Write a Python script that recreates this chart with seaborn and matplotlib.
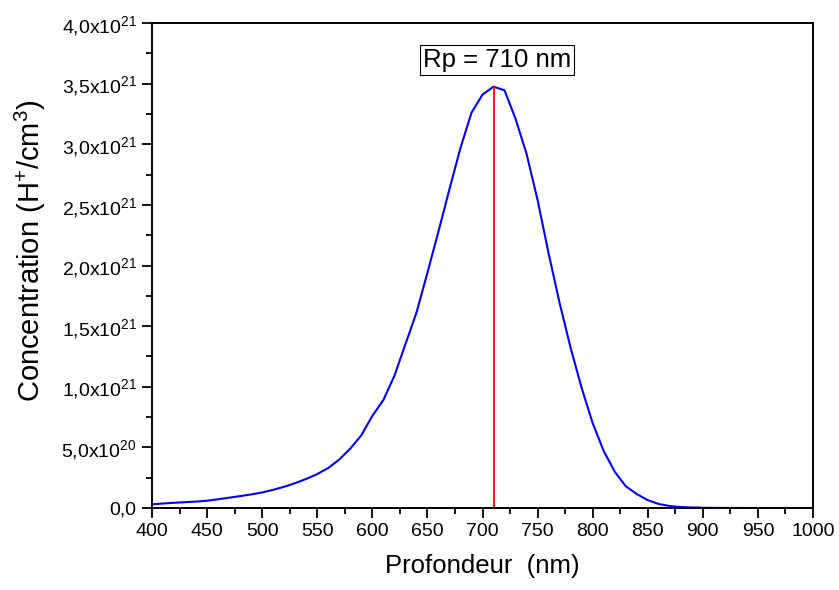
import numpy as np
import pandas as pd
import matplotlib
matplotlib.use("Agg")
import matplotlib.pyplot as plt
from matplotlib.ticker import FixedLocator, MultipleLocator
import seaborn as sns

# --------------------------------------------------
# Data (read from the reference profile, 10 nm steps)
# --------------------------------------------------
depth_nm = list(range(400, 1010, 10))
conc_e21 = [
    0.030, 0.037, 0.043, 0.048, 0.053, 0.060, 0.072, 0.085, 0.098, 0.112,
    0.128, 0.150, 0.175, 0.205, 0.240, 0.280, 0.330, 0.400, 0.490, 0.600,
    0.760, 0.890, 1.090, 1.350, 1.610, 1.940, 2.280, 2.630, 2.970, 3.260,
    3.410, 3.475, 3.445, 3.210, 2.920, 2.540, 2.100, 1.690, 1.320, 0.990,
    0.700, 0.470, 0.300, 0.180, 0.115, 0.065, 0.033, 0.016, 0.008, 0.004,
    0.002, 0.001, 0.0005, 0.0003, 0.0002, 0.0001, 0.0, 0.0, 0.0, 0.0, 0.0,
]
rp_nm = 710
rp_label = "Rp = 710 nm"

y_ticks = [0.0, 0.5e21, 1.0e21, 1.5e21, 2.0e21, 2.5e21, 3.0e21, 3.5e21, 4.0e21]
y_ticklabels = [
    "0,0",
    r"5,0x10$^{20}$",
    r"1,0x10$^{21}$",
    r"1,5x10$^{21}$",
    r"2,0x10$^{21}$",
    r"2,5x10$^{21}$",
    r"3,0x10$^{21}$",
    r"3,5x10$^{21}$",
    r"4,0x10$^{21}$",
]
x_ticks = list(range(400, 1001, 50))

df = pd.DataFrame({"depth": depth_nm, "conc": np.array(conc_e21) * 1e21})
peak = df["conc"].max()

# --------------------------------------------------
# Style
# --------------------------------------------------
sns.set_style("ticks")
plt.rcParams["font.family"] = ["Liberation Sans", "DejaVu Sans"]
plt.rcParams["mathtext.fontset"] = "custom"
plt.rcParams["mathtext.rm"] = "Liberation Sans"
plt.rcParams["mathtext.it"] = "Liberation Sans"
plt.rcParams["mathtext.default"] = "regular"
plt.rcParams["text.color"] = "black"
plt.rcParams["axes.labelcolor"] = "black"
plt.rcParams["xtick.color"] = "black"
plt.rcParams["ytick.color"] = "black"

fig = plt.figure(figsize=(8.39, 5.90), dpi=100)
ax = fig.add_axes([0.1812, 0.139, 0.7878, 0.822])

sns.lineplot(data=df, x="depth", y="conc", color="#0000ff", linewidth=1.5, ax=ax)
ax.plot([rp_nm, rp_nm], [0, peak], color="#ff0000", linewidth=1.3)

ax.text(713, 3.695e21, rp_label, ha="center", va="center", fontsize=18.5,
        color="black",
        bbox=dict(boxstyle="square,pad=0.12", facecolor="white",
                  edgecolor="black", linewidth=0.8))

ax.set_xlim(400, 1000)
ax.set_ylim(0, 4.0e21)
ax.xaxis.set_major_locator(FixedLocator(x_ticks))
ax.xaxis.set_minor_locator(MultipleLocator(25))
ax.yaxis.set_major_locator(FixedLocator(y_ticks))
ax.yaxis.set_minor_locator(MultipleLocator(0.25e21))
ax.set_yticklabels(y_ticklabels)

ax.tick_params(which="major", direction="out", length=7, width=1.3,
               labelsize=14, pad=4, colors="black", top=False, right=False)
ax.tick_params(which="minor", direction="out", length=4, width=1.3,
               top=False, right=False)

for side in ["top", "right", "bottom", "left"]:
    ax.spines[side].set_visible(True)
    ax.spines[side].set_linewidth(1.4)
    ax.spines[side].set_color("black")

ax.set_xlabel("Profondeur  (nm)", fontsize=18.5, labelpad=10)
ax.set_ylabel(r"Concentration (H$^{+}$/cm$^{3}$)", fontsize=21)
ax.yaxis.set_label_coords(-0.158, 0.53)

fig.savefig("out.png", dpi=100)
plt.close(fig)
